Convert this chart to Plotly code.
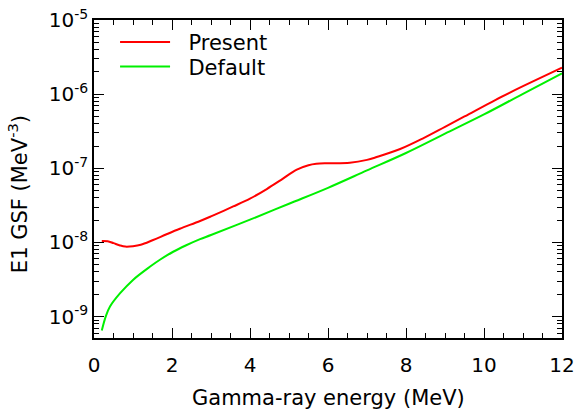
import plotly.graph_objects as go

present_E = [0.2, 0.35, 0.5, 0.65, 0.8, 1.0, 1.2, 1.5, 1.86, 2.2, 2.72, 3.0, 3.57, 4.0, 4.43,
             4.8, 5.2, 5.5, 5.7, 6.0, 6.56, 7.0, 7.25, 7.85, 8.45, 9.0, 9.5, 10.3, 11.0, 11.5, 12.0]
present_gsf = [1.05e-8, 1.04e-8, 0.98e-8, 0.92e-8, 0.88e-8, 0.89e-8, 0.93e-8, 1.07e-8, 1.29e-8,
               1.53e-8, 1.95e-8, 2.25e-8, 3.06e-8, 3.9e-8, 5.25e-8, 7.0e-8, 9.6e-8, 1.1e-7,
               1.15e-7, 1.17e-7, 1.19e-7, 1.3e-7, 1.42e-7, 1.82e-7, 2.56e-7, 3.63e-7, 5.0e-7,
               8.4e-7, 1.28e-6, 1.71e-6, 2.27e-6]

default_E = [0.2, 0.3, 0.41, 0.67, 1.0, 1.44, 1.7, 2.03, 2.35, 2.72, 3.0, 4.0, 5.0, 6.0,
             7.0, 8.0, 9.0, 10.0, 11.0, 12.0]
default_gsf = [6.5e-10, 1.0e-9, 1.37e-9, 2.07e-9, 3.13e-9, 4.74e-9, 5.9e-9, 7.5e-9, 9.1e-9,
               1.11e-8, 1.26e-8, 2.03e-8, 3.33e-8, 5.46e-8, 9.38e-8, 1.61e-7, 2.93e-7, 5.33e-7,
               1.01e-6, 1.9e-6]

x_ticks = [0, 2, 4, 6, 8, 10, 12]
y_ticks = [1e-9, 1e-8, 1e-7, 1e-6, 1e-5]
y_ticktext = ["10<sup>-9</sup>", "10<sup>-8</sup>", "10<sup>-7</sup>", "10<sup>-6</sup>", "10<sup>-5</sup>"]

font = "DejaVu Sans"
fig = go.Figure()
fig.add_trace(go.Scatter(x=present_E, y=present_gsf, mode="lines", name="\u00a0\u00a0Present",
                         legend="legend",
                         line=dict(color="#ff0000", width=2, shape="spline")))
fig.add_trace(go.Scatter(x=default_E, y=default_gsf, mode="lines", name="\u00a0\u00a0Default",
                         legend="legend2",
                         line=dict(color="#00f000", width=2, shape="spline")))

leg_common = dict(xanchor="left", yanchor="middle", bgcolor="rgba(0,0,0,0)",
                  font=dict(family=font, size=21, color="black"), itemwidth=50)
fig.update_layout(
    width=576, height=410,
    margin=dict(l=94, r=14, t=20, b=72),
    paper_bgcolor="white", plot_bgcolor="white",
    font=dict(family=font, size=20, color="black"),
    showlegend=True,
    legend=dict(x=0.045, y=0.930, **leg_common),
    legend2=dict(x=0.045, y=0.853, **leg_common),
    annotations=[
        dict(text="Gamma-ray energy (MeV)", xref="paper", yref="paper", x=0.5, y=-0.1887,
             xanchor="center", yanchor="middle", showarrow=False,
             font=dict(family=font, size=21, color="black")),
        dict(text="E1 GSF (MeV<sup>-3</sup>)", xref="paper", yref="paper", x=-0.162, y=0.453,
             xanchor="center", yanchor="middle", showarrow=False, textangle=-90,
             font=dict(family=font, size=21, color="black")),
    ],
)
fig.update_xaxes(
    range=[0, 12], tickvals=x_ticks, ticks="inside", ticklen=10, tickwidth=1,
    tickcolor="black", showline=True, linecolor="black", linewidth=1.5, mirror="allticks",
    showgrid=False, zeroline=False, automargin=False, ticklabelstandoff=8,
    minor=dict(dtick=0.5, ticks="inside", ticklen=5, tickcolor="black", showgrid=False),
    tickfont=dict(family=font, size=20),
)
fig.update_yaxes(
    type="log", range=[-9.288, -5], tickvals=y_ticks, ticktext=y_ticktext,
    ticks="inside", ticklen=10, tickwidth=1, tickcolor="black",
    showline=True, linecolor="black", linewidth=1.5, mirror="allticks",
    showgrid=False, zeroline=False, automargin=False,
    minor=dict(ticks="inside", ticklen=5, tickcolor="black", showgrid=False,
               tickvals=[m * 10.0 ** e for e in range(-10, -5) for m in range(2, 10)]),
    tickfont=dict(family=font, size=20),
)
fig.write_html("out.html")
